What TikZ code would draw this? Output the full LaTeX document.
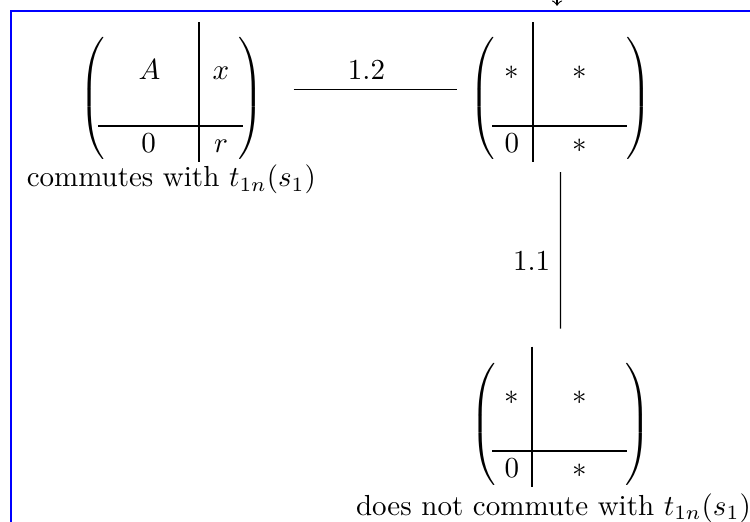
\documentclass[tikz,border=0pt]{standalone}
\usetikzlibrary{positioning,fit}
\setlength{\nulldelimiterspace}{0pt}
\newcommand{\bigparL}{$\left(\vrule height 25pt depth 20pt width 0pt\right.$}
\newcommand{\bigparR}{$\left.\vrule height 25pt depth 20pt width 0pt\right)$}

\begin{document}
\begin{tikzpicture}[
	paren/.style={inner sep=0pt},
	entry/.style={anchor=base, inner sep=0pt},
	block/.style={inner sep=0pt},
	frame/.style={blue, line width=0.9pt}]

	\useasboundingbox (0,0) rectangle (9.091,-6.327);

	% frame
	\draw[frame] (0.133,-6.6) -- (0.133,-0.133) -- (9.4,-0.133);
	\coordinate (inA) at (6.752,0.4);
	\coordinate (inB) at (6.752,-0.07);
	\draw[->] (inA) -- (inB);

	% first matrix
	\node[paren] (M1l) at (1.115,-1.190) {\bigparL};
	\node[paren] (M1r) at (3.040,-1.190) {\bigparR};
	\node[entry] (M1a) at (1.812,-0.958) {$A$};
	\node[entry] (M1b) at (2.679,-0.958) {$x$};
	\node[entry] (M1c) at (1.800,-1.848) {$0$};
	\node[entry] (M1d) at (2.679,-1.848) {$r$};
	\draw (2.412,-0.270) -- (2.412,-1.964);
	\draw (1.188,-1.527) -- (2.945,-1.527);
	\node[block, fit=(M1l)(M1r)] (M1) {};

	% second matrix
	\node[paren] (M2l) at (5.845,-1.190) {\bigparL};
	\node[paren] (M2r) at (7.745,-1.190) {\bigparR};
	\node[entry] (M2a) at (6.206,-0.958) {$*$};
	\node[entry] (M2b) at (7.030,-0.958) {$*$};
	\node[entry] (M2c) at (6.206,-1.848) {$0$};
	\node[entry] (M2d) at (7.030,-1.848) {$*$};
	\draw (6.461,-0.270) -- (6.461,-1.964);
	\draw (5.964,-1.527) -- (7.600,-1.527);
	\node[block, fit=(M2l)(M2r)] (M2) {};

	% third matrix
	\node[paren] (M3l) at (5.855,-5.143) {\bigparL};
	\node[paren] (M3r) at (7.730,-5.143) {\bigparR};
	\node[entry] (M3a) at (6.206,-4.897) {$*$};
	\node[entry] (M3b) at (7.030,-4.897) {$*$};
	\node[entry] (M3c) at (6.206,-5.787) {$0$};
	\node[entry] (M3d) at (7.030,-5.787) {$*$};
	\draw (6.448,-4.200) -- (6.448,-5.903);
	\draw (5.964,-5.466) -- (7.600,-5.466);
	\node[block, fit=(M3l)(M3r)] (M3) {};

	% labels
	\node[below=-3.4pt of M1] (L1) {commutes with $t_{1n}(s_1)$};
	\node[below=-2.6pt of M3, xshift=-2.4pt] (L3) {does not commute with $t_{1n}(s_1)$};

	% links
	\draw[shorten <=10pt, shorten >=4pt] ([yshift=3pt]M1.east) -- node[above] {1.2} ([yshift=3pt]M2.west);
	\draw[shorten <=2.6pt, shorten >=10.1pt] (M2) -- node[left] {1.1} (M3);
\end{tikzpicture}
\end{document}
